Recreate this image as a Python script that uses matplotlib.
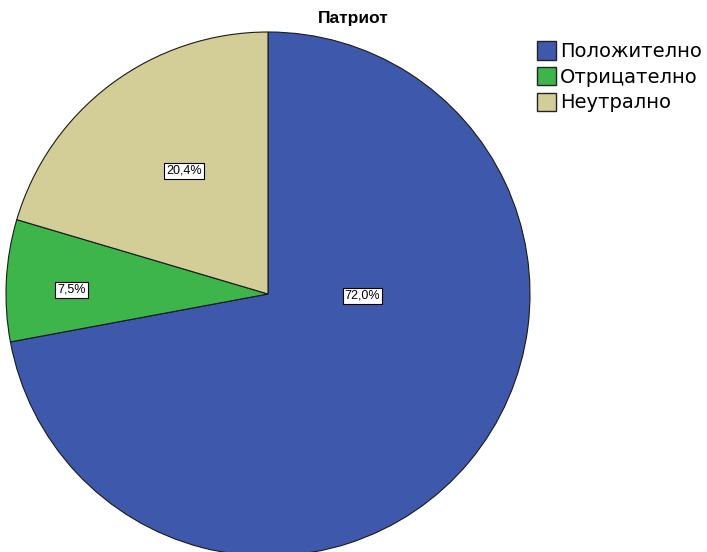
import matplotlib
matplotlib.use("Agg")
import matplotlib.pyplot as plt
import numpy as np
from matplotlib.patches import Patch

title = "Патриот"
categories = ["Положително", "Отрицателно", "Неутрално"]
values = [72.0, 7.5, 20.4]
colors = ["#3E58AC", "#3DB54A", "#D3CE97"]
# label placement (fraction of radius, angle in degrees) per slice
label_pos = [(0.36, -1.0), (0.75, 178.8), (0.57, 124.3)]

W, H = 707, 552
fig = plt.figure(figsize=(W / 100, H / 100), dpi=100)
ax = fig.add_axes([0, 0, 1, 1])
ax.set_xlim(0, W)
ax.set_ylim(0, H)
ax.set_aspect("equal")
ax.axis("off")

cx, cy, R = 268, H - 294, 262
wedges, _ = ax.pie(values, colors=colors, startangle=90, counterclock=False,
                   center=(cx, cy), radius=R, frame=True,
                   wedgeprops=dict(edgecolor="#1a1a1a", linewidth=0.8))
ax.set_xlim(0, W)
ax.set_ylim(0, H)
ax.axis("off")

for v, (f, a) in zip(values, label_pos):
    x = cx + f * R * np.cos(np.radians(a))
    y = cy + f * R * np.sin(np.radians(a))
    ax.text(x, y, f"{v:.1f}".replace(".", ",") + "%", ha="center", va="center",
            fontsize=9, family="Liberation Sans",
            bbox=dict(boxstyle="square,pad=0.15", fc="white", ec="black", lw=0.8))

fig.text(353 / W, 1 - 18 / H, title, ha="center", va="center",
         fontsize=12.5, fontweight="bold", family="Liberation Sans")

handles = [Patch(facecolor=c, edgecolor="#222222", linewidth=1.0) for c in colors]
leg = fig.legend(handles, categories, loc="upper left",
                 bbox_to_anchor=(537 / W, 1 - 41 / H), frameon=False,
                 prop=dict(family="DejaVu Sans", size=14),
                 handlelength=1.0, handleheight=1.1, handletextpad=0.2,
                 labelspacing=0.3, borderaxespad=0, borderpad=0)

fig.savefig("out.png", dpi=100)
